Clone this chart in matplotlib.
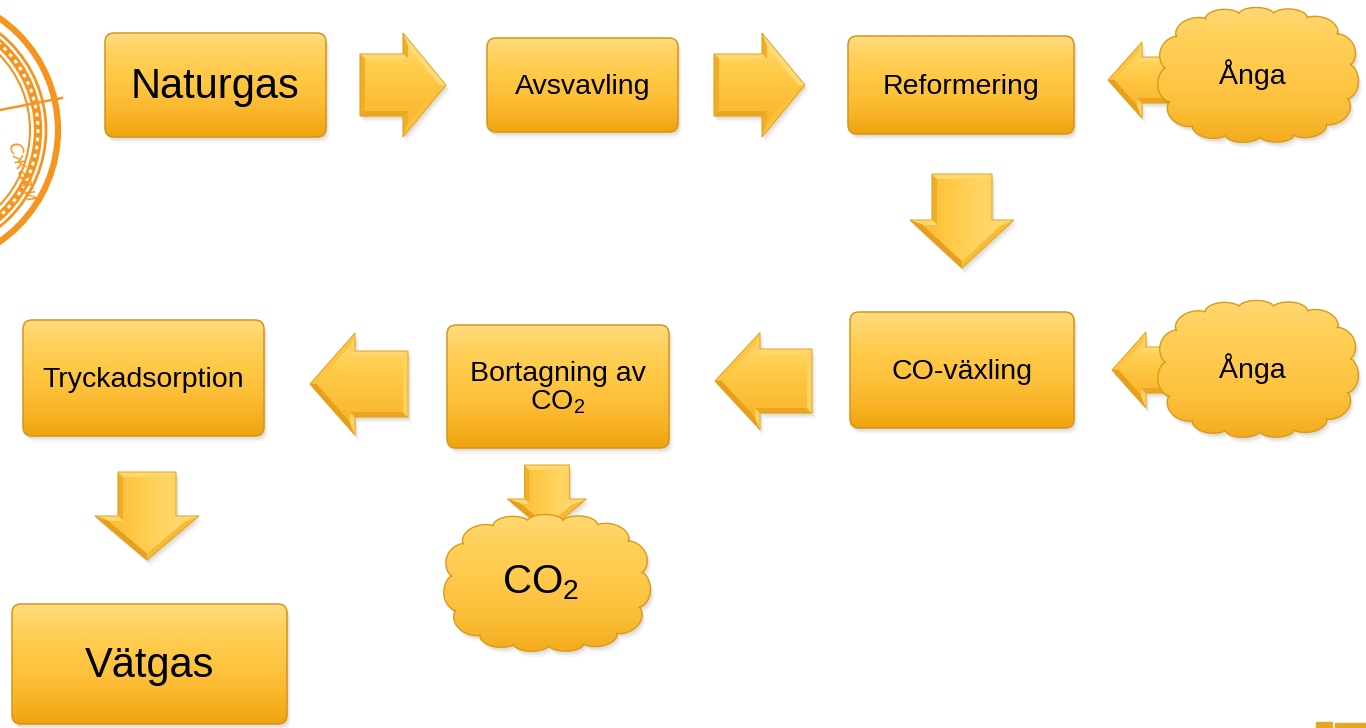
import numpy as np
import matplotlib
matplotlib.use("Agg")
import matplotlib.pyplot as plt
from matplotlib.patches import FancyBboxPatch, Polygon, Circle, Rectangle
from matplotlib.colors import LinearSegmentedColormap, to_rgb

plt.rcParams['font.family'] = ['Liberation Sans', 'DejaVu Sans']
plt.rcParams['mathtext.default'] = 'regular'

# ---- content ----
box_labels = ["Naturgas", "Avsvavling", "Reformering", "CO-växling",
              "Bortagning av\nCO$_2$", "Tryckadsorption", "Vätgas"]
cloud_labels = ["Ånga", "Ånga", "CO$_2$"]
stamp_text = "Сжати"

# ---- layout (pixels: x0, y0, x1, y1) ----
box_rects = [(105, 33, 326, 137), (487, 38, 678, 132), (848, 36, 1074, 134),
             (850, 312, 1074, 428), (447, 325, 669, 448), (23, 320, 264, 436),
             (12, 604, 287, 724)]
box_fs = [30, 20.5, 20.5, 20.5, 20.5, 20.5, 30]
cloud_geo = [(1258, 75, 201, 135), (1258, 369, 201, 137), (547, 583, 207, 137)]
cloud_fs = [20.5, 20.5, 29]
# arrows: tail(x,y), tip(x,y), body width, head width, head length
arrows = [((360, 85), (446, 85), 62, 104, 43),
          ((714, 85), (805, 85), 62, 104, 43),
          ((1175, 80), (1108, 80), 46, 76, 34),
          ((962, 174), (962, 268), 60, 104, 48),
          ((1175, 370), (1112, 370), 46, 76, 34),
          ((812, 381), (715, 381), 64, 97, 45),
          ((408, 384), (310, 384), 66, 102, 45),
          ((147, 472), (147, 560), 58, 104, 44),
          ((547, 465), (547, 532), 45, 79, 33)]

W, H = 1366, 728
fig = plt.figure(figsize=(W / 100, H / 100), dpi=100)
ax = fig.add_axes([0, 0, 1, 1])
ax.set_xlim(0, W)
ax.set_ylim(H, 0)
ax.axis('off')

box_cmap = LinearSegmentedColormap.from_list(
    'box', ['#FFDC80', '#FFD15C', '#FFC947', '#FDC03A', '#F8B326', '#EFA40E'])
face_cmap = LinearSegmentedColormap.from_list(
    'face', ['#FFD766', '#FFCB4A', '#FDC03A', '#F9B52A'])
face_cmap_h = LinearSegmentedColormap.from_list(
    'faceh', ['#FCBC33', '#FFC947', '#FFD35E', '#FFD96E'])
cloud_cmap = LinearSegmentedColormap.from_list(
    'cloud', ['#FFD872', '#FFCF57', '#FFC84A', '#FBBE38', '#F3AC1C'])

BASE = np.array(to_rgb('#FDC23C'))
LIGHT = np.array(to_rgb('#FFEA9A'))
DARK = np.array(to_rgb('#E0940A'))
LDIR = np.array([0.6, -0.8])


def grad_fill(patch, bbox, cmap, vertical=True, z=2):
    x0, y0, x1, y1 = bbox
    g = np.linspace(0, 1, 256)
    arr = g.reshape(-1, 1) if vertical else g.reshape(1, -1)
    im = ax.imshow(arr, cmap=cmap, extent=[x0, x1, y1, y0], origin='upper',
                   aspect='auto', zorder=z, interpolation='bicubic')
    im.set_clip_path(patch)


def shadow(make_patch, z):
    for off, a in [(6, 0.05), (4, 0.07), (2.5, 0.09)]:
        p = make_patch(off)
        p.set_facecolor('#6b5a40')
        p.set_edgecolor('none')
        p.set_alpha(a)
        p.set_zorder(z)
        ax.add_patch(p)


# ---- stamp (top-left, partly outside) ----
sc = (-78, 130)
stamp_col = '#F7941D'
ax.add_patch(Circle(sc, 136, fill=False, ec=stamp_col, lw=4.5, zorder=1))
ax.add_patch(Circle(sc, 124, fill=False, ec=stamp_col, lw=2.0, zorder=1))
ax.add_patch(Circle(sc, 116, fill=False, ec=stamp_col, lw=6, zorder=1))
ax.add_patch(Circle(sc, 116, fill=False, ec='white', lw=2.2, ls=(0, (1.2, 1.5)), zorder=1))
ax.add_patch(Circle(sc, 108, fill=False, ec=stamp_col, lw=1.5, zorder=1))
ax.plot([0, 62], [110, 98], color=stamp_col, lw=1.8, zorder=1)
ax.text(22, 172, stamp_text, fontsize=13, color=stamp_col, rotation=-72,
        ha='center', va='center', family=['DejaVu Sans'], style='italic', zorder=1)

# ---- bottom-right fragment ----
ax.add_patch(Rectangle((1316, 722), 16, 6, color='#E2A91E', zorder=1))
ax.add_patch(Rectangle((1335, 723), 31, 5, color='#E2A91E', zorder=1))


# ---- arrows ----
def arrow_pts(tail, tip, bw, hw, hl):
    t = np.array(tail, float)
    p = np.array(tip, float)
    d = p - t
    u = d / np.linalg.norm(d)
    n = np.array([-u[1], u[0]])
    hb = p - u * hl
    return np.array([t + n * bw / 2, hb + n * bw / 2, hb + n * hw / 2, p,
                     hb - n * hw / 2, hb - n * bw / 2, t - n * bw / 2])


def outward_normals(pts):
    x, y = pts[:, 0], pts[:, 1]
    area = 0.5 * np.sum(x * np.roll(y, -1) - np.roll(x, -1) * y)
    nrm = []
    for i in range(len(pts)):
        e = pts[(i + 1) % len(pts)] - pts[i]
        e = e / np.linalg.norm(e)
        nv = np.array([e[1], -e[0]]) if area > 0 else np.array([-e[1], e[0]])
        nrm.append(nv)
    return np.array(nrm)


def inset(pts, d):
    nrm = outward_normals(pts)
    N = len(pts)
    out = []
    for j in range(N):
        i = (j - 1) % N
        p1 = pts[i] - nrm[i] * d
        e1 = pts[j] - pts[i]
        p2 = pts[j] - nrm[j] * d
        e2 = pts[(j + 1) % N] - pts[j]
        A = np.array([e1, -e2]).T
        s = np.linalg.solve(A, p2 - p1)[0]
        out.append(p1 + e1 * s)
    return np.array(out)


for tail, tip, bw, hw, hl in arrows:
    pts = arrow_pts(tail, tip, bw, hw, hl)
    shadow(lambda o, pts=pts: Polygon(pts + np.array([o * 0.6, o]), closed=True), 3)
    inner = inset(pts, 5)
    nrm = outward_normals(pts)
    N = len(pts)
    for i in range(N):
        s = float(np.dot(nrm[i], LDIR))
        col = BASE + (LIGHT - BASE) * s * 0.65 if s > 0 else BASE + (BASE - DARK) * s * 0.75
        col = np.clip(col, 0, 1)
        quad = np.array([pts[i], pts[(i + 1) % N], inner[(i + 1) % N], inner[i]])
        ax.add_patch(Polygon(quad, closed=True, fc=col, ec=col, lw=0.4, zorder=4))
    poly = Polygon(inner, closed=True, fc='none', ec='none', zorder=5)
    ax.add_patch(poly)
    x0, y0 = inner.min(axis=0)
    x1, y1 = inner.max(axis=0)
    vertical_arrow = abs(tip[0] - tail[0]) < abs(tip[1] - tail[1])
    if vertical_arrow:
        grad_fill(poly, (x0, y0, x1, y1), face_cmap_h, vertical=False, z=5)
    else:
        grad_fill(poly, (x0, y0, x1, y1), face_cmap, vertical=True, z=5)
    ax.add_patch(Polygon(pts, closed=True, fc='none', ec='#DDA020', lw=0.6, zorder=6))


# ---- clouds ----
def cloud_pts(cx, cy, w, h, n=15, off=(0, 0)):
    th = np.linspace(0, 2 * np.pi, 2000)
    m = 2.6
    c, s = np.cos(th), np.sin(th)
    bx = np.sign(c) * np.abs(c) ** (2 / m) * w / 2
    by = np.sign(s) * np.abs(s) ** (2 / m) * h / 2
    seg = np.hypot(np.diff(bx), np.diff(by))
    L = np.concatenate([[0], np.cumsum(seg)])
    L = L / L[-1]
    bump = np.abs(np.sin(np.pi * n * (L + 0.02))) ** 0.55
    r = 0.915 + 0.085 * bump
    x = cx + bx * r + off[0]
    y = cy + by * r + off[1]
    return np.column_stack([x, y])


for (cx, cy, w, h), lab, fs in zip(cloud_geo, cloud_labels, cloud_fs):
    pts = cloud_pts(cx, cy, w, h)
    shadow(lambda o, cx=cx, cy=cy, w=w, h=h: Polygon(cloud_pts(cx, cy, w, h, off=(o * 0.6, o)), closed=True), 7)
    poly = Polygon(pts, closed=True, fc='none', ec='none', zorder=8)
    ax.add_patch(poly)
    grad_fill(poly, (cx - w / 2, cy - h / 2, cx + w / 2, cy + h / 2), cloud_cmap, True, z=8)
    ax.add_patch(Polygon(pts, closed=True, fc='none', ec='#D99A1C', lw=1.0, zorder=9))
    ax.text(cx - 6, cy, lab, fontsize=fs, ha='center', va='center', color='black', zorder=9.5)


# ---- boxes ----
def rbox(x0, y0, x1, y1, off=0):
    return FancyBboxPatch((x0 + off * 0.6, y0 + off), x1 - x0, y1 - y0,
                          boxstyle="round,pad=0,rounding_size=9")


for (x0, y0, x1, y1), lab, fs in zip(box_rects, box_labels, box_fs):
    shadow(lambda o, r=(x0, y0, x1, y1): rbox(*r, off=o), 9.6)
    p = rbox(x0, y0, x1, y1)
    p.set_facecolor('none')
    p.set_edgecolor('none')
    p.set_zorder(10)
    ax.add_patch(p)
    grad_fill(p, (x0, y0, x1, y1), box_cmap, True, z=10)
    e = rbox(x0, y0, x1, y1)
    e.set_facecolor('none')
    e.set_edgecolor('#D4951A')
    e.set_linewidth(1.1)
    e.set_zorder(11)
    ax.add_patch(e)
    ax.text((x0 + x1) / 2, (y0 + y1) / 2 + 2, lab, fontsize=fs, ha='center',
            va='center', color='black', zorder=12, linespacing=1.05)

fig.savefig("out.png", dpi=100)
